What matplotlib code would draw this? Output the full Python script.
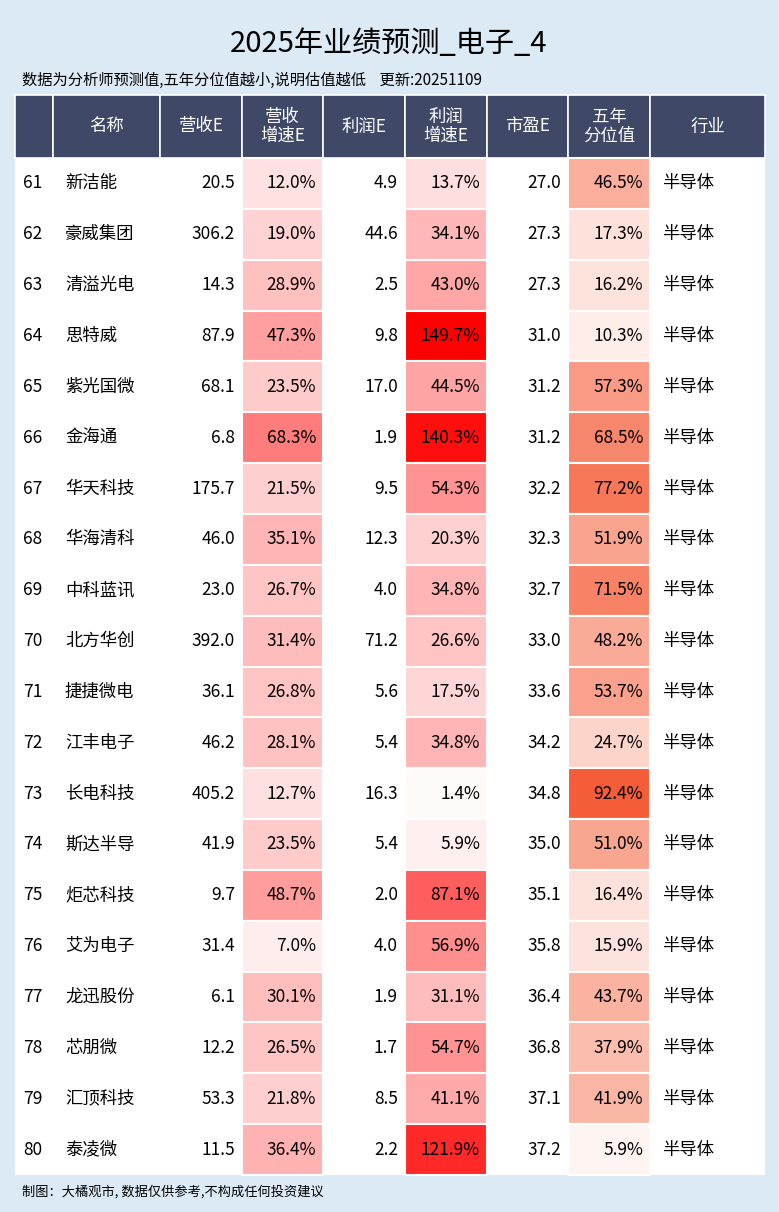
import matplotlib
matplotlib.use("Agg")
import matplotlib.pyplot as plt
from matplotlib.patches import Rectangle

plt.rcParams['font.family'] = ['Noto Sans CJK SC', 'DejaVu Sans']

ranks = list(range(61, 81))
names = ["新洁能", "豪威集团", "清溢光电", "思特威", "紫光国微", "金海通", "华天科技", "华海清科",
         "中科蓝讯", "北方华创", "捷捷微电", "江丰电子", "长电科技", "斯达半导", "炬芯科技",
         "艾为电子", "龙迅股份", "芯朋微", "汇顶科技", "泰凌微"]
revenue = [20.5, 306.2, 14.3, 87.9, 68.1, 6.8, 175.7, 46.0, 23.0, 392.0,
           36.1, 46.2, 405.2, 41.9, 9.7, 31.4, 6.1, 12.2, 53.3, 11.5]
rev_growth = [12.0, 19.0, 28.9, 47.3, 23.5, 68.3, 21.5, 35.1, 26.7, 31.4,
              26.8, 28.1, 12.7, 23.5, 48.7, 7.0, 30.1, 26.5, 21.8, 36.4]
profit = [4.9, 44.6, 2.5, 9.8, 17.0, 1.9, 9.5, 12.3, 4.0, 71.2,
          5.6, 5.4, 16.3, 5.4, 2.0, 4.0, 1.9, 1.7, 8.5, 2.2]
profit_growth = [13.7, 34.1, 43.0, 149.7, 44.5, 140.3, 54.3, 20.3, 34.8, 26.6,
                 17.5, 34.8, 1.4, 5.9, 87.1, 56.9, 31.1, 54.7, 41.1, 121.9]
pe = [27.0, 27.3, 27.3, 31.0, 31.2, 31.2, 32.2, 32.3, 32.7, 33.0,
      33.6, 34.2, 34.8, 35.0, 35.1, 35.8, 36.4, 36.8, 37.1, 37.2]
pct5y = [46.5, 17.3, 16.2, 10.3, 57.3, 68.5, 77.2, 51.9, 71.5, 48.2,
         53.7, 24.7, 92.4, 51.0, 16.4, 15.9, 43.7, 37.9, 41.9, 5.9]
industry = ["半导体"] * 20

headers = ["", "名称", "营收E", "营收\n增速E", "利润E", "利润\n增速E", "市盈E", "五年\n分位值", "行业"]
col_edges = [15, 53, 160, 242, 323, 405, 487, 568, 650, 765]
header_top, header_bot, table_bot = 95, 158, 1175

BG = "#dceaf6"
HEAD = "#404868"


def red_scale(v, vmax=150.0):
    t = max(0.0, min(1.0, v / vmax))
    t = t ** 0.85
    return (1.0, 1 - t, 1 - t)


def pct_scale(v):
    t = max(0.0, min(1.0, v / 100.0))
    end = (244 / 255, 80 / 255, 40 / 255)
    return tuple(1 - t * (1 - e) for e in end)


fig = plt.figure(figsize=(7.79, 12.12), dpi=100, facecolor=BG)
ax = fig.add_axes([0, 0, 1, 1])
ax.set_xlim(0, 779)
ax.set_ylim(1212, 0)
ax.axis('off')

ax.text(389, 44, "2025年业绩预测_电子_4", ha='center', va='center', fontsize=21)
ax.text(22, 80, "数据为分析师预测值,五年分位值越小,说明估值越低    更新:20251109",
        ha='left', va='center', fontsize=11)
ax.text(22, 1192, "制图：大橘观市, 数据仅供参考,不构成任何投资建议", ha='left', va='center', fontsize=9.5)

# table background
ax.add_patch(Rectangle((col_edges[0], header_top), col_edges[-1] - col_edges[0],
                       table_bot - header_top, facecolor='white', edgecolor='none'))

# header
for i, h in enumerate(headers):
    x0, x1 = col_edges[i], col_edges[i + 1]
    ax.add_patch(Rectangle((x0, header_top), x1 - x0, header_bot - header_top,
                           facecolor=HEAD, edgecolor='white', lw=1.2))
    ax.text((x0 + x1) / 2, (header_top + header_bot) / 2, h, ha='center', va='center',
            color='white', fontsize=12.5, linespacing=1.1)

row_h = (table_bot - header_bot) / len(ranks)
for r in range(len(ranks)):
    y0 = header_bot + r * row_h
    yc = y0 + row_h / 2
    fills = {3: red_scale(rev_growth[r]), 5: red_scale(profit_growth[r]), 7: pct_scale(pct5y[r])}
    for c, color in fills.items():
        ax.add_patch(Rectangle((col_edges[c], y0), col_edges[c + 1] - col_edges[c], row_h,
                               facecolor=color, edgecolor='white', lw=1.5))
    fs = 12.5
    ax.text(col_edges[0] + 8, yc, str(ranks[r]), ha='left', va='center', fontsize=fs)
    ax.text(col_edges[1] + 12, yc, names[r], ha='left', va='center', fontsize=fs)
    right_vals = [f"{revenue[r]:.1f}", f"{rev_growth[r]:.1f}%", f"{profit[r]:.1f}",
                  f"{profit_growth[r]:.1f}%", f"{pe[r]:.1f}", f"{pct5y[r]:.1f}%"]
    for k, s in enumerate(right_vals):
        ax.text(col_edges[k + 3] - 7, yc, s, ha='right', va='center', fontsize=fs)
    ax.text(col_edges[8] + 12, yc, industry[r], ha='left', va='center', fontsize=fs)

fig.savefig("out.png", dpi=100, facecolor=BG)
